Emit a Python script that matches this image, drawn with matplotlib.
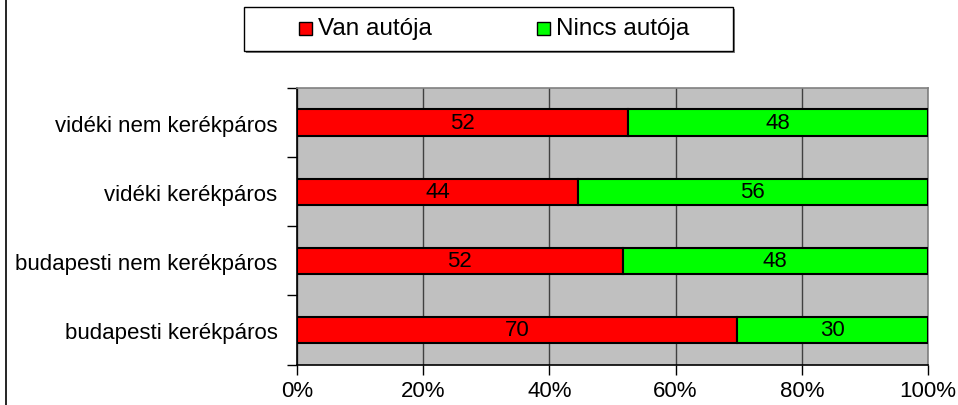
import matplotlib
matplotlib.use('Agg')
import matplotlib.pyplot as plt
from matplotlib.patches import Rectangle
from matplotlib.lines import Line2D

plt.rcParams['font.family'] = ['Liberation Sans', 'DejaVu Sans']

# bottom to top, as drawn
categories = ['budapesti kerékpáros', 'budapesti nem kerékpáros',
              'vidéki kerékpáros', 'vidéki nem kerékpáros']
van_autoja = [69.8, 51.6, 44.5, 52.5]
nincs_autoja = [30.2, 48.4, 55.5, 47.5]
van_labels = ['70', '52', '44', '52']
nincs_labels = ['30', '48', '56', '48']
series_names = ['Van autója', 'Nincs autója']
x_ticks = [0, 20, 40, 60, 80, 100]
x_tick_labels = ['0%', '20%', '40%', '60%', '80%', '100%']

red = '#FF0000'
green = '#00FF00'
fs = 16

W, H = 958, 406
fig = plt.figure(figsize=(W / 100, H / 100), dpi=100)
ax = fig.add_axes([297 / W, 1 - 365.5 / H, 631 / W, 276.5 / H])
ax.set_facecolor('#C0C0C0')

y = list(range(len(categories)))
h = 0.38
ax.barh(y, van_autoja, height=h, color=red, edgecolor='black', linewidth=1.5, zorder=3)
ax.barh(y, nincs_autoja, left=van_autoja, height=h, color=green,
        edgecolor='black', linewidth=1.5, zorder=3)

for i in y:
    ax.text(van_autoja[i] / 2, i, van_labels[i], ha='center', va='center',
            fontsize=fs, zorder=4)
    ax.text(van_autoja[i] + nincs_autoja[i] / 2, i, nincs_labels[i],
            ha='center', va='center', fontsize=fs, zorder=4)

ax.set_xlim(0, 100)
ax.set_ylim(-0.5, len(categories) - 0.5)

ax.set_xticks(x_ticks)
ax.set_xticklabels(x_tick_labels, fontsize=fs)
ax.tick_params(axis='x', direction='out', length=7, width=1, pad=4)
ax.xaxis.grid(True, color='#404040', linewidth=1, zorder=1)
ax.set_axisbelow(True)

ax.set_yticks(y)
ax.set_yticklabels(categories, fontsize=fs)
ax.tick_params(axis='y', which='major', length=0, pad=14)
ax.set_yticks([i - 0.5 for i in range(len(categories) + 1)], minor=True)
ax.tick_params(axis='y', which='minor', direction='out', length=7, width=1)

ax.spines['left'].set_color('black')
ax.spines['bottom'].set_color('black')
ax.spines['top'].set_color('#808080')
ax.spines['right'].set_color('#808080')
for s in ax.spines.values():
    s.set_linewidth(1.2)

# legend box drawn in figure pixels
def fx(px):
    return px / W


def fy(py):
    return 1 - py / H


fig.patches.append(Rectangle((fx(246), fy(54)), fx(489), 44 / H, transform=fig.transFigure,
                             facecolor='#808080', edgecolor='none', zorder=1))
fig.patches.append(Rectangle((fx(244), fy(52)), fx(489), 44 / H, transform=fig.transFigure,
                             facecolor='white', edgecolor='black', linewidth=1, zorder=2))
for x0, c, name in [(299, red, series_names[0]), (537, green, series_names[1])]:
    fig.patches.append(Rectangle((fx(x0), fy(36)), fx(13), 13 / H, transform=fig.transFigure,
                                 facecolor=c, edgecolor='black', linewidth=1, zorder=3))
    fig.text(fx(x0 + 19), fy(28.5), name, fontsize=17.5, va='center', ha='left', zorder=4)

fig.lines.append(Line2D([fx(6), fx(6)], [0, 1], transform=fig.transFigure,
                        color='black', linewidth=1.2))

fig.savefig('out.png', dpi=100)
